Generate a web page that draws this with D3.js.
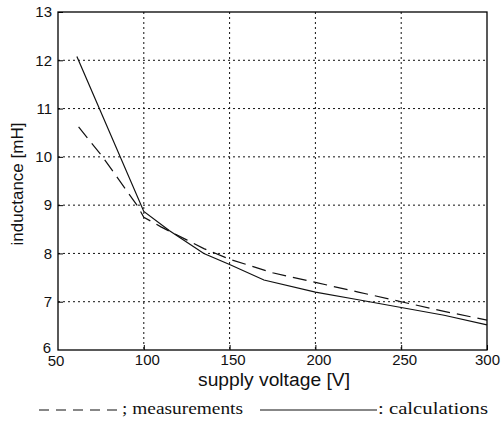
<!DOCTYPE html>
<html>
<head>
<meta charset="utf-8">
<script src="https://cdn.jsdelivr.net/npm/d3@7"></script>
<style>
  body { margin: 0; background: #fff; }
  svg { display: block; }
</style>
</head>
<body>
<svg id="chart" width="501" height="422"></svg>
<script>
// values
const xTicks = [50, 100, 150, 200, 250, 300];
const yTicks = [6, 7, 8, 9, 10, 11, 12, 13];

const measVoltage = [62, 76, 96, 100, 110, 125, 135, 150, 175, 200, 225, 250, 275, 300];
const measInductance = [10.62, 10.0, 9.0, 8.75, 8.55, 8.28, 8.1, 7.88, 7.6, 7.4, 7.2, 7.0, 6.8, 6.62];

const calcVoltage = [61, 100, 115, 135, 150, 170, 200, 225, 250, 275, 300];
const calcInductance = [12.08, 8.87, 8.47, 8.0, 7.77, 7.45, 7.2, 7.04, 6.88, 6.72, 6.52];

const svg = d3.select('#chart');
const plot = { left: 58, right: 487, top: 12, bottom: 350 };

const x = d3.scaleLinear().domain([50, 300]).range([plot.left, plot.right]);
const y = d3.scaleLinear().domain([6, 13]).range([plot.bottom, plot.top]);

const g = svg.append('g');

// dotted grid
g.append('g').selectAll('line')
    .data(xTicks.slice(1, -1))
    .join('line')
    .attr('x1', d => x(d)).attr('x2', d => x(d))
    .attr('y1', plot.top).attr('y2', plot.bottom)
    .attr('stroke', '#111').attr('stroke-width', 1)
    .attr('stroke-dasharray', '2,3');

g.append('g').selectAll('line')
    .data(yTicks.slice(1, -1))
    .join('line')
    .attr('x1', plot.left).attr('x2', plot.right)
    .attr('y1', d => y(d)).attr('y2', d => y(d))
    .attr('stroke', '#111').attr('stroke-width', 1)
    .attr('stroke-dasharray', '2,3');

// axes with inward ticks, matlab style
const xAxis = d3.axisBottom(x).tickValues(xTicks.slice(1)).tickFormat(d3.format('d'))
    .tickSize(-5).tickPadding(4);
const yAxis = d3.axisLeft(y).tickValues(yTicks.slice(1)).tickFormat(d3.format('d'))
    .tickSize(-5).tickPadding(6);

const fontSans = '"Liberation Sans", Arial, sans-serif';

const gx = g.append('g').attr('transform', `translate(0,${plot.bottom})`).call(xAxis);
const gy = g.append('g').attr('transform', `translate(${plot.left},0)`).call(yAxis);
[gx, gy].forEach(a => {
    a.select('.domain').remove();
    a.selectAll('line').attr('stroke', '#000');
    a.selectAll('text').attr('font-family', fontSans).attr('font-size', 15).attr('fill', '#111');
});
// shift labels a little right, but keep the last one inside the page
gx.selectAll('text').attr('dx', d => d === xTicks[xTicks.length - 1] ? 0 : 3);

// overlapping corner labels "6" and "50"
g.append('text').attr('x', plot.left - 7).attr('y', plot.bottom + 3)
    .attr('text-anchor', 'end').attr('font-family', fontSans)
    .attr('font-size', 15).attr('fill', '#111').text(yTicks[0]);
g.append('text').attr('x', x(xTicks[0]) - 2).attr('y', plot.bottom + 16)
    .attr('text-anchor', 'middle').attr('font-family', fontSans)
    .attr('font-size', 15).attr('fill', '#111').text(xTicks[0]);

// frame
g.append('rect')
    .attr('x', plot.left).attr('y', plot.top)
    .attr('width', plot.right - plot.left).attr('height', plot.bottom - plot.top)
    .attr('fill', 'none').attr('stroke', '#000').attr('stroke-width', 1.3);

const line = d3.line().x(d => x(d[0])).y(d => y(d[1]));

g.append('path')
    .datum(d3.zip(measVoltage, measInductance))
    .attr('d', line)
    .attr('fill', 'none').attr('stroke', '#111').attr('stroke-width', 1.2)
    .attr('stroke-dasharray', '14,7');

g.append('path')
    .datum(d3.zip(calcVoltage, calcInductance))
    .attr('d', line)
    .attr('fill', 'none').attr('stroke', '#111').attr('stroke-width', 1.2);

// axis labels
svg.append('text')
    .attr('x', 274).attr('y', 386)
    .attr('text-anchor', 'middle').attr('font-family', fontSans)
    .attr('font-size', 18).attr('fill', '#111')
    .attr('textLength', 152).attr('lengthAdjust', 'spacingAndGlyphs')
    .text('supply voltage [V]');

svg.append('text')
    .attr('transform', `translate(23,${(plot.top + plot.bottom) / 2 + 3}) rotate(-90)`)
    .attr('text-anchor', 'middle').attr('font-family', fontSans)
    .attr('font-size', 17).attr('fill', '#111')
    .text('inductance [mH]');

// legend
const fontSerif = '"Liberation Serif", "Times New Roman", serif';
const ly = 410;
svg.append('line').attr('x1', 39).attr('x2', 118).attr('y1', ly).attr('y2', ly)
    .attr('stroke', '#111').attr('stroke-width', 1.2).attr('stroke-dasharray', '10,7');
svg.append('text').attr('x', 122).attr('y', ly + 4)
    .attr('font-family', fontSerif).attr('font-size', 17).attr('fill', '#111')
    .attr('textLength', 121).attr('lengthAdjust', 'spacingAndGlyphs')
    .text('; measurements');
svg.append('line').attr('x1', 260).attr('x2', 377).attr('y1', ly).attr('y2', ly)
    .attr('stroke', '#111').attr('stroke-width', 1.2);
svg.append('text').attr('x', 378).attr('y', ly + 4)
    .attr('font-family', fontSerif).attr('font-size', 17).attr('fill', '#111')
    .attr('textLength', 110).attr('lengthAdjust', 'spacingAndGlyphs')
    .text(': calculations');
</script>
</body>
</html>
